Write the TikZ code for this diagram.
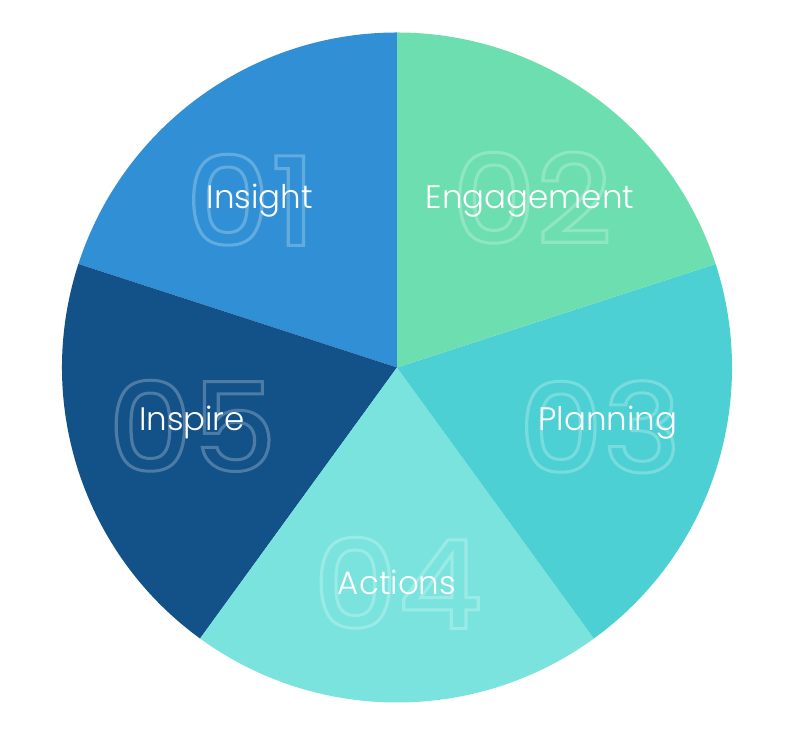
\documentclass[tikz,border=0pt]{standalone}
\usepackage{fontspec}
\setmainfont{Poppins}
\newfontfamily\numfont{Poppins Medium}
\newfontfamily\labfont{Poppins Light}
\definecolor{cIns}{RGB}{49,144,213}
\definecolor{cEng}{RGB}{109,222,176}
\definecolor{cPla}{RGB}{77,208,212}
\definecolor{cAct}{RGB}{122,227,222}
\definecolor{cInp}{RGB}{19,81,137}
\newcommand{\outlinetext}[1]{\special{pdf:literal direct 1 Tr 3 w}#1\special{pdf:literal direct 0 Tr 1 w}}
\tikzset{
  slicelabel/.style={text=white, anchor=base, inner sep=0pt, font=\labfont\fontsize{32.5}{32.5}\selectfont},
  bignum/.style={anchor=base, inner sep=0pt, xscale=1.07, transform shape, font=\numfont\fontsize{123}{123}\selectfont}
}
\begin{document}
\begin{tikzpicture}[x=1pt,y=1pt]
\useasboundingbox (0,0) rectangle (798,743);
\fill[white] (0,0) rectangle (798,743);
\coordinate (c) at (397,375.5);
\def\R{335}
\fill[cIns] (c) -- +(90:\R) arc[start angle=90,end angle=162,radius=\R] -- cycle;
\fill[cInp] (c) -- +(162:\R) arc[start angle=162,end angle=234,radius=\R] -- cycle;
\fill[cAct] (c) -- +(234:\R) arc[start angle=234,end angle=306,radius=\R] -- cycle;
\fill[cPla] (c) -- +(306:\R) arc[start angle=306,end angle=378,radius=\R] -- cycle;
\fill[cEng] (c) -- +(18:\R) arc[start angle=18,end angle=90,radius=\R] -- cycle;
% big outlined numbers
\node[bignum, text=cIns!76!white] (n1) at (251,497.5) {\outlinetext{01}};
\node[bignum, text=cEng!76!white] (n2) at (532,499.5) {\outlinetext{02}};
\node[bignum, text=cPla!76!white] (n3) at (600,270.5) {\outlinetext{03}};
\node[bignum, text=cAct!76!white] (n4) at (398,114.5) {\outlinetext{04}};
\node[bignum, text=cInp!76!white] (n5) at (192.5,271.5) {\outlinetext{05}};
% labels
\node[slicelabel] (l1) at (260,534) {Insight};
\node[slicelabel] (l2) at (530,534) {Engagement};
\node[slicelabel] (l3) at (608,312) {Planning};
\node[slicelabel] (l4) at (397,148) {Actions};
\node[slicelabel] (l5) at (192,312) {Inspire};
\end{tikzpicture}
\end{document}
